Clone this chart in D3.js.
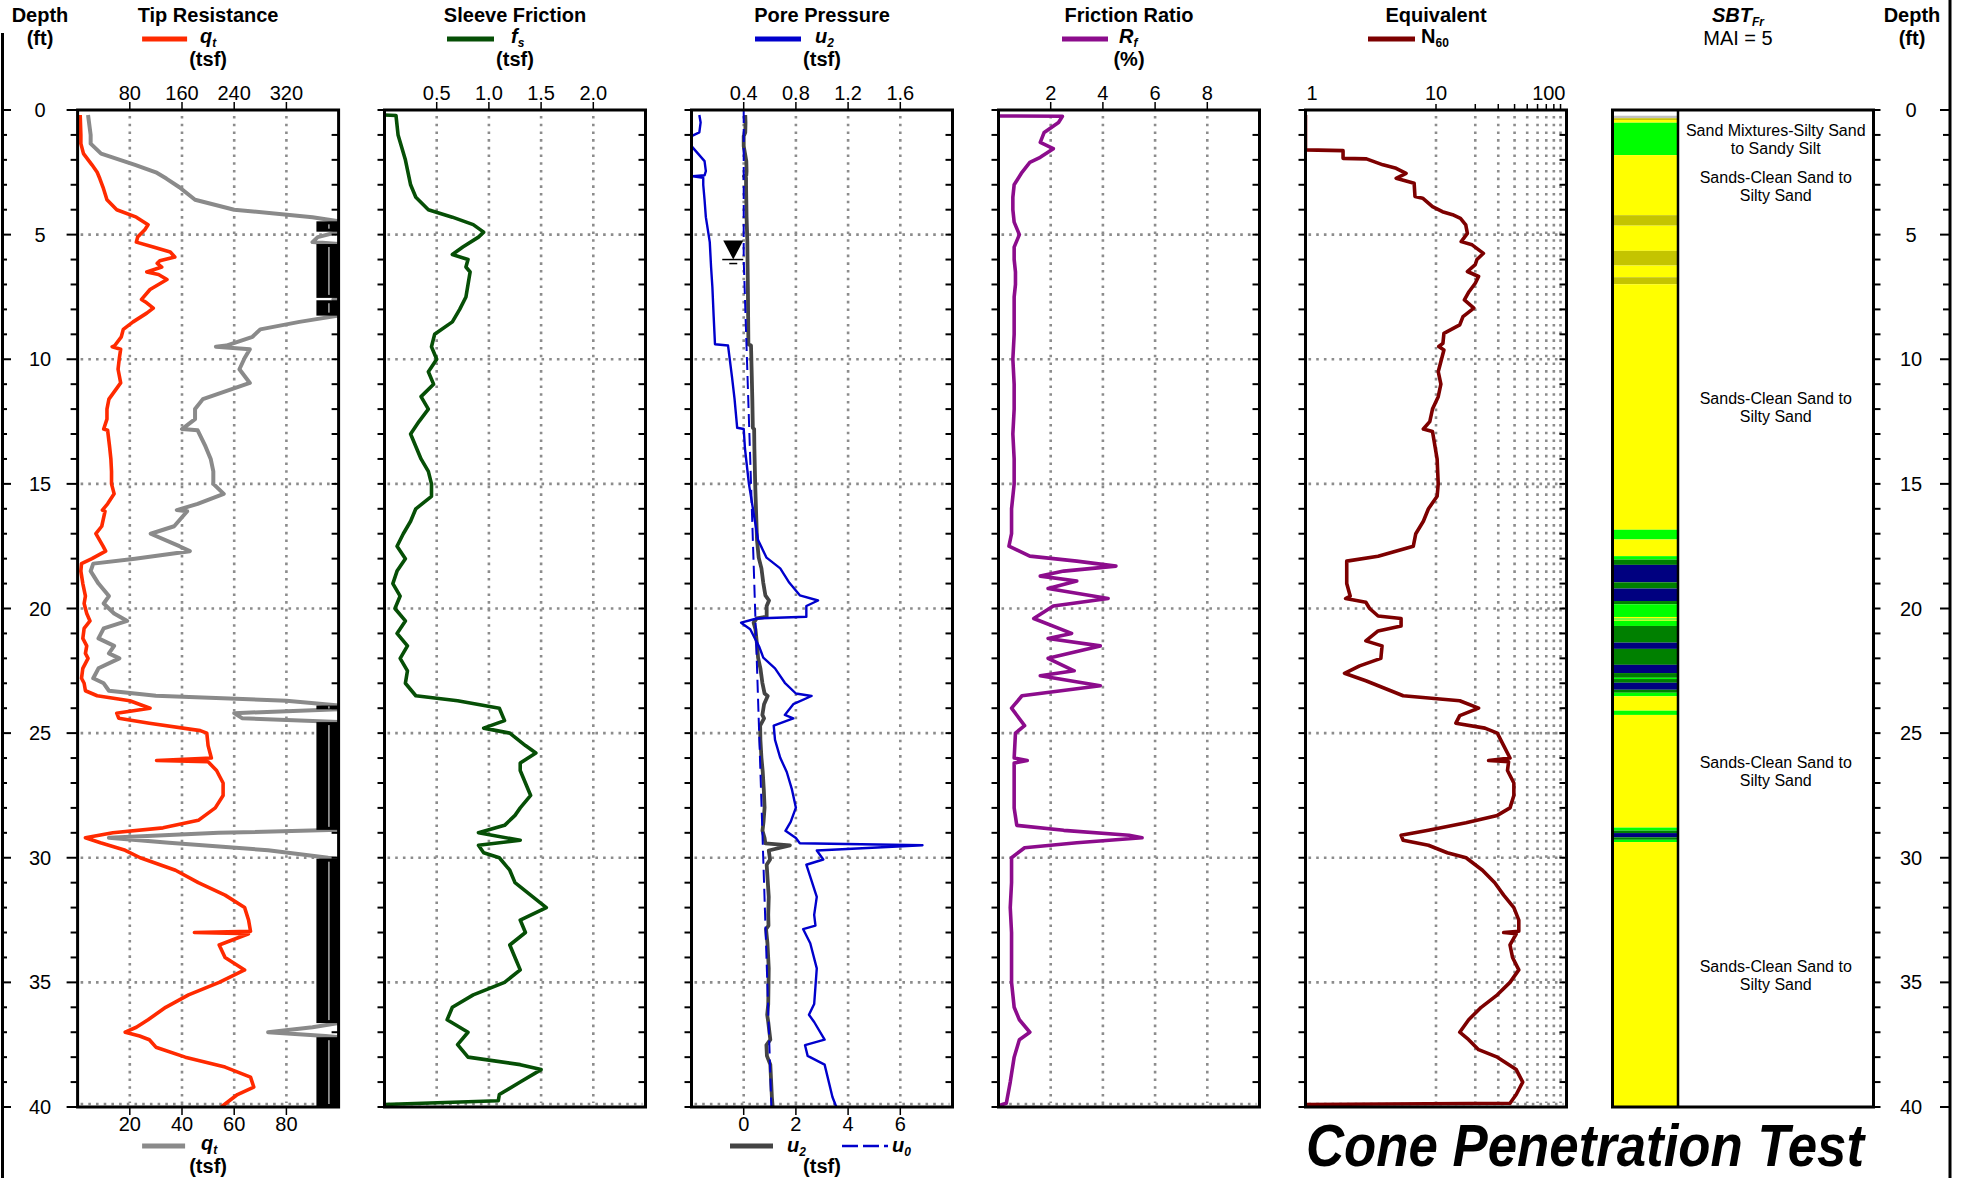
<!DOCTYPE html>
<html>
<head>
<meta charset="utf-8">
<script src="https://cdn.jsdelivr.net/npm/d3@7"></script>
<style>
  body { margin: 0; background: #fff; }
  text { font-family: "Liberation Sans", Arial, sans-serif; }
</style>
</head>
<body>
<script>
// ---- data (depth in ft, value) ----
var qtData = [[0.2,4],[1.0,5],[1.35,5],[1.75,9],[2.2,22],[2.5,30],[2.75,34],[3.1,39],[3.6,45],[4.0,60],[4.3,90],[4.6,108],[4.8,103],[5.1,92],[5.3,90],[5.5,116],[5.7,142],[5.9,149],[6.05,126],[6.15,122],[6.3,129],[6.5,106],[6.6,124],[6.8,137],[7.2,111],[7.6,98],[7.7,104],[7.95,116],[8.15,106],[8.5,85],[8.8,70],[9.1,67],[9.45,57],[9.5,53],[9.6,66],[9.95,64],[10.4,62],[10.95,66],[11.6,48],[12.0,45],[12.4,45],[12.8,40],[12.85,46],[13.5,49],[14.0,51],[14.5,52],[15.0,52],[15.4,56],[15.8,46],[16.05,38],[16.1,42],[16.7,37],[17.0,28],[17.5,39],[17.7,43],[18.0,22],[18.2,6],[18.5,5],[19.0,8],[19.5,12],[19.8,10],[20.2,14],[20.5,19],[20.8,10],[21.2,8],[21.5,14],[21.8,12],[22.0,16],[22.4,8],[22.8,6],[23.0,10],[23.3,12],[23.5,30],[23.7,80],[24.0,111],[24.2,60],[24.4,63],[24.6,110],[24.9,188],[25.0,198],[25.5,200],[26.0,205],[26.1,121],[26.15,200],[26.5,213],[27.0,223],[27.5,223],[28.0,211],[28.5,185],[28.8,131],[29.0,54],[29.2,12],[29.4,35],[29.7,73],[30.0,96],[30.5,150],[31.0,185],[31.5,226],[32.0,256],[32.5,262],[32.95,265],[33.0,179],[33.05,262],[33.5,217],[34.0,226],[34.5,256],[35.0,217],[35.5,170],[36.0,135],[36.5,108],[36.8,90],[37.0,73],[37.15,95],[37.3,110],[37.6,120],[38.0,165],[38.4,226],[38.8,265],[39.2,270],[39.5,245],[40.0,220]];

var fsData = [[0.2,0],[0.22,0.11],[1.0,0.13],[2.0,0.2],[3.0,0.25],[3.5,0.3],[4.0,0.42],[4.3,0.65],[4.6,0.85],[4.9,0.95],[5.1,0.9],[5.5,0.75],[5.8,0.65],[6.0,0.8],[6.3,0.78],[6.5,0.82],[7.0,0.8],[7.5,0.78],[8.0,0.72],[8.5,0.65],[9.0,0.48],[9.5,0.45],[10.0,0.5],[10.5,0.42],[11.0,0.47],[11.5,0.35],[12.0,0.42],[12.5,0.33],[13.0,0.25],[13.5,0.3],[14.0,0.35],[14.5,0.42],[15.0,0.45],[15.5,0.45],[16.0,0.3],[16.5,0.25],[17.0,0.18],[17.5,0.12],[18.0,0.2],[18.5,0.12],[19.0,0.08],[19.5,0.15],[20.0,0.1],[20.5,0.2],[21.0,0.12],[21.5,0.22],[22.0,0.15],[22.5,0.22],[23.0,0.2],[23.5,0.3],[23.7,0.7],[24.0,1.1],[24.5,1.15],[24.8,0.95],[25.0,1.2],[25.5,1.35],[25.8,1.45],[26.2,1.3],[26.5,1.3],[27.0,1.35],[27.5,1.4],[28.0,1.3],[28.3,1.25],[28.7,1.15],[29.0,0.9],[29.3,1.3],[29.5,0.9],[29.8,0.95],[30.0,1.1],[30.5,1.2],[31.0,1.25],[31.5,1.4],[32.0,1.55],[32.5,1.3],[33.0,1.35],[33.5,1.2],[34.0,1.25],[34.5,1.3],[35.0,1.15],[35.5,0.85],[36.0,0.65],[36.5,0.6],[37.0,0.8],[37.5,0.7],[38.0,0.8],[38.3,1.3],[38.5,1.5],[39.0,1.3],[39.5,1.1],[39.75,1.09],[39.9,0]];

var u2Data = [[0.2,0.06],[0.5,0.07],[0.9,0.06],[1.05,0.0],[1.45,0.0],[1.75,0.05],[2.05,0.10],[2.45,0.11],[2.62,0.10],[2.66,0.01],[2.72,0.09],[3.0,0.09],[3.6,0.10],[4.3,0.11],[5.3,0.14],[6.3,0.15],[7.1,0.16],[8.3,0.17],[9.4,0.18],[9.45,0.28],[10.7,0.31],[11.6,0.33],[12.75,0.35],[12.8,0.40],[13.6,0.41],[15.0,0.44],[16.3,0.48],[17.25,0.51],[17.96,0.575],[18.39,0.68],[18.97,0.75],[19.47,0.83],[19.68,0.97],[19.9,0.88],[20.33,0.88],[20.4,0.50],[20.57,0.38],[20.83,0.45],[21.55,0.52],[21.97,0.55],[22.4,0.64],[22.98,0.715],[23.41,0.80],[23.51,0.92],[23.84,0.78],[24.27,0.715],[24.41,0.78],[24.7,0.63],[25.27,0.64],[25.99,0.68],[26.56,0.73],[27.27,0.77],[27.99,0.80],[28.56,0.76],[28.92,0.72],[29.21,0.80],[29.42,0.83],[29.5,1.77],[29.71,0.96],[30.07,1.01],[30.28,0.88],[31.57,0.96],[32.29,0.94],[32.72,0.95],[32.86,0.855],[33.43,0.91],[34.44,0.96],[35.87,0.94],[36.3,0.90],[36.59,0.94],[37.3,1.02],[37.52,0.87],[37.95,0.89],[38.3,1.02],[39.6,1.08],[40.0,1.11]];

var u0Data = [[0,0],[6.0,0],[40,1.06]];

var rfData = [[0.24,0],[0.25,2.45],[0.5,2.3],[0.9,1.75],[1.3,1.6],[1.55,2.1],[1.9,1.6],[2.1,1.2],[2.5,0.9],[3.0,0.6],[3.5,0.55],[4.0,0.55],[4.5,0.6],[5.0,0.8],[5.5,0.6],[6.0,0.6],[6.5,0.65],[7.0,0.65],[7.5,0.6],[8.0,0.6],[9.0,0.6],[10.0,0.55],[11.0,0.6],[12.0,0.6],[13.0,0.55],[14.0,0.6],[15.0,0.6],[16.0,0.5],[17.0,0.5],[17.5,0.4],[17.9,1.2],[18.1,3.0],[18.3,4.5],[18.5,2.5],[18.7,1.6],[18.9,3.0],[19.2,1.9],[19.6,4.2],[19.9,2.1],[20.4,1.35],[21.0,2.8],[21.2,1.9],[21.5,3.9],[22.0,1.9],[22.5,2.9],[22.7,1.6],[23.1,3.9],[23.5,0.9],[24.0,0.5],[24.7,1.0],[25.0,0.65],[26.0,0.6],[26.1,1.1],[26.2,0.6],[27.0,0.6],[28.0,0.6],[28.7,0.7],[28.9,2.5],[29.1,5.0],[29.2,5.5],[29.4,3.0],[29.6,1.0],[30.0,0.5],[31.0,0.5],[32.0,0.45],[33.0,0.5],[34.0,0.5],[35.0,0.5],[36.0,0.6],[36.5,0.8],[37.0,1.2],[37.3,0.8],[38.0,0.6],[39.0,0.45],[39.85,0.3],[39.95,0]];

var n60Data = [[0.2,1],[1.6,1],[1.63,1.94],[1.94,1.94],[1.96,2.93],[2.2,3.92],[2.34,4.95],[2.54,5.9],[2.74,4.95],[2.94,6.8],[3.47,6.9],[3.54,7.9],[3.88,9.4],[4.08,11.2],[4.2,13.4],[4.35,15.4],[4.61,16.9],[4.95,17.4],[5.28,15.6],[5.41,18.9],[5.75,23.1],[6.0,20.6],[6.2,20.0],[6.48,17.4],[6.68,21.2],[6.95,20.0],[7.29,17.9],[7.62,16.5],[7.95,19.5],[8.29,16.1],[8.62,15.2],[8.96,11.5],[9.36,11.3],[9.49,10.5],[9.63,11.5],[10.5,10.4],[11.0,10.9],[11.5,10.4],[12.0,9.4],[12.5,8.96],[12.8,8.0],[12.9,9.4],[14.0,10.2],[15.0,10.4],[15.5,10.2],[16.0,8.75],[16.5,8.0],[17.0,7.0],[17.5,6.7],[17.9,3.6],[18.1,2.07],[18.5,2.07],[19.0,2.07],[19.5,2.2],[19.6,2.03],[19.75,2.9],[20.0,3.1],[20.3,3.6],[20.4,5.4],[20.7,5.4],[20.9,3.6],[21.3,2.9],[21.5,3.86],[22.0,3.78],[22.3,2.6],[22.6,1.99],[22.9,2.9],[23.3,4.5],[23.5,5.6],[23.7,15.2],[24.0,21.2],[24.3,15.2],[24.6,14.2],[24.8,23.7],[25.0,29.5],[25.5,33],[26.0,36.9],[26.1,25.3],[26.15,36],[26.5,35.3],[27.0,39.5],[27.5,39.5],[28.0,36.9],[28.3,29.5],[28.6,17],[28.9,8.75],[29.1,5.4],[29.3,5.6],[29.5,8.75],[29.8,12.2],[30.0,17],[30.5,22.7],[31.0,28.2],[31.5,33],[32.0,39.5],[32.5,43.1],[32.95,43.1],[33.0,33],[33.05,41.2],[33.5,36.9],[34.0,38.6],[34.5,43.1],[35.0,36.9],[35.5,29.5],[36.0,22.2],[36.5,17.8],[37.0,15.2],[37.3,17.8],[37.7,21.2],[38.0,29.5],[38.5,41.2],[39.0,46.2],[39.5,41.2],[39.85,36.9],[39.9,1]];

// SBT layers: [top, bottom, zone]
var sbtLayers = [[0.23,0.33,8],[0.33,0.40,7],[0.40,0.51,6],[0.51,1.81,5],[1.81,4.22,6],[4.22,4.64,7],[4.64,5.65,6],[5.65,6.24,7],[6.24,6.71,6],[6.71,6.99,7],[6.99,16.84,6],[16.84,17.23,5],[17.23,17.9,6],[17.9,18.04,5],[18.04,18.25,4],[18.25,18.95,3],[18.95,19.2,4],[19.2,19.7,3],[19.7,19.83,4],[19.83,20.34,5],[20.34,20.4,6],[20.4,20.45,5],[20.45,20.49,6],[20.49,20.7,5],[20.7,21.37,4],[21.37,21.62,3],[21.62,22.26,4],[22.26,22.59,3],[22.59,22.78,4],[22.78,22.83,5],[22.83,22.98,4],[22.98,23.26,3],[23.26,23.38,4],[23.38,23.52,5],[23.52,24.1,6],[24.1,24.27,5],[24.27,28.79,6],[28.79,28.91,5],[28.91,29.01,4],[29.01,29.18,3],[29.18,29.28,4],[29.28,29.37,5],[29.37,40,6]];
var sbtLabels = [[1.16,"Sand Mixtures-Silty Sand","to Sandy Silt"],[3.03,"Sands-Clean Sand to","Silty Sand"],[11.9,"Sands-Clean Sand to","Silty Sand"],[26.5,"Sands-Clean Sand to","Silty Sand"],[34.7,"Sands-Clean Sand to","Silty Sand"]];
var waterTable = 6.0;

// ticks
var depthTicks = [0,5,10,15,20,25,30,35,40];
var qtTopTicks = [80,160,240,320];
var qtBottomTicks = [20,40,60,80];
var fsTicks = [0.5,1.0,1.5,2.0];
var u2TopTicks = [0.4,0.8,1.2,1.6];
var u2BottomTicks = [0,2,4,6];
var rfTicks = [2,4,6,8];
var n60Labels = [1,10,100];
var n60Grid = [10,20,30,40,50,60,70,80,90];

// ---- layout ----
var width = 1963, height = 1178;
var yTop = 110, yBot = 1107, panelW = 261;
var panelLeft = [77.6, 384.5, 691.5, 998.5, 1305.5, 1612.5];

var svg = d3.select("body").append("svg")
    .attr("width", width)
    .attr("height", height);

var y = d3.scaleLinear().domain([0, 40]).range([yTop, yBot]);

function rng(i){ return [panelLeft[i], panelLeft[i] + panelW]; }
var xQt  = d3.scaleLinear().domain([0, 400]).range(rng(0));
var xQtB = d3.scaleLinear().domain([0, 100]).range(rng(0));
var xFs  = d3.scaleLinear().domain([0, 2.5]).range(rng(1));
var xU2  = d3.scaleLinear().domain([0, 2]).range(rng(2));
var xU2B = d3.scaleLinear().domain([-2, 8]).range(rng(2));
var xRf  = d3.scaleLinear().domain([0, 10]).range(rng(3));
var xN   = d3.scaleLog().domain([1, 100]).range(rng(4));

var dotColor = "#8c8c8c";
function dotted(g, x1, y1, x2, y2){
  g.append("line")
    .attr("x1", x1).attr("y1", y1).attr("x2", x2).attr("y2", y2)
    .attr("stroke", dotColor)
    .attr("stroke-width", 2.6)
    .attr("stroke-dasharray", "2.6 5.1");
}

function grid(i, vx){
  var g = svg.append("g");
  var x0 = panelLeft[i], x1 = x0 + panelW;
  depthTicks.forEach(function(d){
    if (d > 0) dotted(g, x0 + 3, y(d) - (d == 40 ? 3 : 0), x1 - 3, y(d) - (d == 40 ? 3 : 0));
  });
  vx.forEach(function(px){ dotted(g, px, yTop + 6, px, yBot - 4); });
}

function clip(i){
  var id = "clip" + i;
  if (svg.select("#" + id).empty()) {
    svg.append("clipPath").attr("id", id)
      .append("rect")
      .attr("x", panelLeft[i]).attr("y", yTop)
      .attr("width", panelW).attr("height", yBot - yTop);
  }
  return "url(#" + id + ")";
}

function trace(i, data, xs, color, w, dash){
  var line = d3.line()
    .x(function(d){ return xs(d[1]); })
    .y(function(d){ return y(d[0]); });
  svg.append("path")
    .datum(data)
    .attr("clip-path", clip(i))
    .attr("fill", "none")
    .attr("stroke", color)
    .attr("stroke-width", w)
    .attr("stroke-linejoin", "round")
    .attr("stroke-dasharray", dash || null)
    .attr("d", line);
}

function frame(i, sideTicks){
  var g = svg.append("g");
  var x0 = panelLeft[i], x1 = x0 + panelW;
  g.append("rect")
    .attr("x", x0).attr("y", yTop)
    .attr("width", panelW).attr("height", yBot - yTop)
    .attr("fill", "none").attr("stroke", "#000").attr("stroke-width", 3);
  if (sideTicks) {
    d3.range(0, 41).forEach(function(d){
      var len = (i == 0 && d % 5 == 0) ? 11 : 7;
      g.append("line").attr("x1", x0 - len).attr("x2", x0 + 1)
        .attr("y1", y(d)).attr("y2", y(d)).attr("stroke", "#000").attr("stroke-width", 2);
      g.append("line").attr("x1", x1 - 7).attr("x2", x1)
        .attr("y1", y(d)).attr("y2", y(d)).attr("stroke", "#000").attr("stroke-width", 2);
    });
  }
}

function topAxis(xs, ticks, fmt){
  var g = svg.append("g");
  ticks.forEach(function(t){
    g.append("line").attr("x1", xs(t)).attr("x2", xs(t))
      .attr("y1", yTop - 8).attr("y2", yTop).attr("stroke", "#000").attr("stroke-width", 1.5);
    g.append("text").attr("x", xs(t)).attr("y", 100)
      .attr("text-anchor", "middle").attr("font-size", 20).text(fmt(t));
  });
}

function bottomAxis(xs, ticks){
  var g = svg.append("g");
  ticks.forEach(function(t){
    g.append("line").attr("x1", xs(t)).attr("x2", xs(t))
      .attr("y1", yBot).attr("y2", yBot + 8).attr("stroke", "#000").attr("stroke-width", 1.5);
    g.append("text").attr("x", xs(t)).attr("y", 1131)
      .attr("text-anchor", "middle").attr("font-size", 20).text(t);
  });
}

function bold(x, yy, txt, anchor){
  return svg.append("text").attr("x", x).attr("y", yy)
    .attr("text-anchor", anchor || "middle")
    .attr("font-size", 20).attr("font-weight", "bold").text(txt);
}

function legendSym(x, yy, main, sub, mainItalic){
  var t = svg.append("text").attr("x", x).attr("y", yy)
    .attr("font-size", 20).attr("font-weight", "bold");
  t.append("tspan").attr("font-style", mainItalic ? "italic" : "normal").text(main);
  t.append("tspan").attr("font-size", 12).attr("dy", 4)
    .attr("font-style", mainItalic ? "italic" : "normal").text(sub);
}

function legendLine(x1, x2, yy, color, w, dash){
  svg.append("line").attr("x1", x1).attr("x2", x2).attr("y1", yy).attr("y2", yy)
    .attr("stroke", color).attr("stroke-width", w)
    .attr("stroke-dasharray", dash || null);
}

function cx(i){ return panelLeft[i] + panelW / 2; }

// ---- depth axes ----
var axL = svg.append("g");
axL.append("line").attr("x1", 2.5).attr("x2", 2.5).attr("y1", 33).attr("y2", height)
  .attr("stroke", "#000").attr("stroke-width", 3);
var axR = svg.append("g");
axR.append("line").attr("x1", 1950).attr("x2", 1950).attr("y1", 0).attr("y2", height)
  .attr("stroke", "#000").attr("stroke-width", 3);
d3.range(0, 41).forEach(function(d){
  var major = d % 5 == 0;
  axL.append("line").attr("x1", 2).attr("x2", major ? 11 : 7)
    .attr("y1", y(d)).attr("y2", y(d)).attr("stroke", "#000").attr("stroke-width", 2);
  axR.append("line").attr("x1", major ? 1940 : 1943).attr("x2", 1950)
    .attr("y1", y(d)).attr("y2", y(d)).attr("stroke", "#000").attr("stroke-width", 2);
  // ticks on right side of SBT column
  axR.append("line").attr("x1", panelLeft[5] + panelW).attr("x2", panelLeft[5] + panelW + 7)
    .attr("y1", y(d)).attr("y2", y(d)).attr("stroke", "#000").attr("stroke-width", 2);
});
depthTicks.forEach(function(d){
  axL.append("text").attr("x", 40).attr("y", y(d) + 7)
    .attr("text-anchor", "middle").attr("font-size", 20).text(d);
  axR.append("text").attr("x", 1911).attr("y", y(d) + 7)
    .attr("text-anchor", "middle").attr("font-size", 20).text(d);
});
bold(40, 22, "Depth"); bold(40, 45, "(ft)");
bold(1912, 22, "Depth"); bold(1912, 45, "(ft)");

// ---- panel 1: tip resistance ----
grid(0, qtTopTicks.map(xQt));
trace(0, qtData, xQtB, "#8a8a8a", 4);
// overflow bands where qt exceeds the 100 tsf scale
var over = [], start = null;
for (var k = 1; k < qtData.length; k++) {
  var a = qtData[k - 1], b = qtData[k];
  if (a[1] <= 100 && b[1] > 100) start = a[0] + (100 - a[1]) / (b[1] - a[1]) * (b[0] - a[0]);
  if (a[1] > 100 && b[1] <= 100 && start !== null) {
    over.push([start, a[0] + (a[1] - 100) / (a[1] - b[1]) * (b[0] - a[0])]);
    start = null;
  }
}
if (start !== null) over.push([start, 40]);
var ob = svg.append("g");
over.forEach(function(r){
  ob.append("rect").attr("x", xQtB(91.5)).attr("y", y(r[0]))
    .attr("width", xQtB(100) - xQtB(91.5)).attr("height", y(r[1]) - y(r[0]))
    .attr("fill", "#000");
  ob.append("line").attr("x1", xQtB(96.3)).attr("x2", xQtB(96.3))
    .attr("y1", y(r[0]) + 3).attr("y2", y(r[1]) - 3)
    .attr("stroke", "#fff").attr("stroke-width", 1);
});
trace(0, qtData, xQt, "#ff2a00", 3.6);
frame(0, true);
topAxis(xQt, qtTopTicks, function(t){ return t; });
bottomAxis(xQtB, qtBottomTicks);
bold(cx(0), 22, "Tip Resistance");
legendLine(cx(0) - 66, cx(0) - 21, 39, "#ff2a00", 5);
legendSym(cx(0) - 8, 43, "q", "t", true);
bold(cx(0), 66, "(tsf)");
legendLine(cx(0) - 66, cx(0) - 23, 1146, "#8a8a8a", 5);
legendSym(cx(0) - 7, 1150, "q", "t", true);
bold(cx(0), 1173, "(tsf)");

// ---- panel 2: sleeve friction ----
grid(1, fsTicks.map(xFs));
trace(1, fsData, xFs, "#064f06", 3.6);
frame(1, true);
topAxis(xFs, fsTicks, d3.format(".1f"));
bold(cx(1), 22, "Sleeve Friction");
legendLine(cx(1) - 68, cx(1) - 21, 39, "#064f06", 5);
legendSym(cx(1) - 4, 43, "f", "s", true);
bold(cx(1), 66, "(tsf)");

// ---- panel 3: pore pressure ----
grid(2, u2TopTicks.map(xU2));
trace(2, u2Data, xU2B, "#444", 3.8);
trace(2, u0Data, xU2B, "#0000cc", 2, "13 6");
trace(2, u2Data, xU2, "#0000cc", 2.4);
// water table marker
var wt = svg.append("g");
var wx = xU2B(-0.4), wy = y(waterTable);
wt.append("path").attr("d", "M" + (wx - 10) + "," + (wy - 19) + "L" + (wx + 10) + "," + (wy - 19) + "L" + wx + "," + wy + "Z")
  .attr("fill", "#000");
wt.append("line").attr("x1", wx - 11).attr("x2", wx + 10).attr("y1", wy).attr("y2", wy)
  .attr("stroke", "#000").attr("stroke-width", 1.5);
wt.append("line").attr("x1", wx - 4).attr("x2", wx + 4).attr("y1", wy + 4).attr("y2", wy + 4)
  .attr("stroke", "#000").attr("stroke-width", 1.5);
frame(2, true);
topAxis(xU2, u2TopTicks, d3.format(".1f"));
bottomAxis(xU2B, u2BottomTicks);
bold(cx(2), 22, "Pore Pressure");
legendLine(cx(2) - 67, cx(2) - 21, 39, "#0000cc", 5);
legendSym(cx(2) - 7, 43, "u", "2", true);
bold(cx(2), 66, "(tsf)");
legendLine(cx(2) - 92, cx(2) - 49, 1146, "#444", 5);
legendSym(cx(2) - 35, 1152, "u", "2", true);
legendLine(cx(2) + 20, cx(2) + 66, 1146, "#0000cc", 2.5, "16 5");
legendSym(cx(2) + 70, 1152, "u", "0", true);
bold(cx(2), 1173, "(tsf)");

// ---- panel 4: friction ratio ----
grid(3, rfTicks.map(xRf));
trace(3, rfData, xRf, "#8c0c8c", 3.6);
frame(3, true);
topAxis(xRf, rfTicks, function(t){ return t; });
bold(cx(3), 22, "Friction Ratio");
legendLine(cx(3) - 67, cx(3) - 21, 39, "#8c0c8c", 5);
legendSym(cx(3) - 10, 43, "R", "f", true);
bold(cx(3), 66, "(%)");

// ---- panel 5: N60 ----
grid(4, n60Grid.map(xN));
trace(4, n60Data, xN, "#7d0000", 3.6);
frame(4, true);
var ng = svg.append("g");
n60Grid.forEach(function(t){
  ng.append("line").attr("x1", xN(t)).attr("x2", xN(t)).attr("y1", yTop - 6).attr("y2", yTop)
    .attr("stroke", "#000").attr("stroke-width", 1.5);
});
n60Labels.forEach(function(t, j){
  ng.append("text")
    .attr("x", j == 0 ? xN(t) + 1 : (j == 2 ? xN(t) - 1 : xN(t)))
    .attr("y", 100)
    .attr("text-anchor", j == 0 ? "start" : (j == 2 ? "end" : "middle"))
    .attr("font-size", 20).text(t);
});
bold(cx(4), 22, "Equivalent");
legendLine(cx(4) - 68, cx(4) - 21, 39, "#7d0000", 5);
legendSym(cx(4) - 15, 43, "N", "60", false);

// ---- panel 6: SBT ----
var sbtColor = d3.scaleOrdinal()
  .domain([3, 4, 5, 6, 7, 8])
  .range(["#000080", "#008000", "#00ff00", "#ffff00", "#c4c400", "#c0c0c0"]);
var colR = 1678;
var sg = svg.append("g");
sg.selectAll("rect.layer").data(sbtLayers).enter().append("rect")
  .attr("class", "layer")
  .attr("x", panelLeft[5]).attr("width", colR - panelLeft[5])
  .attr("y", function(d){ return y(d[0]); })
  .attr("height", function(d){ return y(d[1]) - y(d[0]); })
  .attr("fill", function(d){ return sbtColor(d[2]); });
sbtLabels.forEach(function(l){
  var t = sg.append("text").attr("text-anchor", "middle").attr("font-size", 16);
  t.append("tspan").attr("x", (colR + panelLeft[5] + panelW) / 2).attr("y", y(l[0]) - 3).text(l[1]);
  t.append("tspan").attr("x", (colR + panelLeft[5] + panelW) / 2).attr("y", y(l[0]) + 15).text(l[2]);
});
sg.append("line").attr("x1", colR).attr("x2", colR).attr("y1", yTop).attr("y2", yBot)
  .attr("stroke", "#000").attr("stroke-width", 2.5);
frame(5, false);
var st = svg.append("text").attr("x", 1738).attr("y", 22).attr("text-anchor", "middle")
  .attr("font-size", 20).attr("font-weight", "bold").attr("font-style", "italic");
st.append("tspan").text("SBT");
st.append("tspan").attr("font-size", 12).attr("dy", 4).text("Fr");
svg.append("text").attr("x", 1738).attr("y", 45).attr("text-anchor", "middle")
  .attr("font-size", 20).text("MAI = 5");

// ---- big title ----
svg.append("text").attr("x", 1306).attr("y", 1166)
  .attr("font-size", 60).attr("font-weight", "bold").attr("font-style", "italic")
  .attr("textLength", 558).attr("lengthAdjust", "spacingAndGlyphs")
  .text("Cone Penetration Test");
</script>
</body>
</html>
